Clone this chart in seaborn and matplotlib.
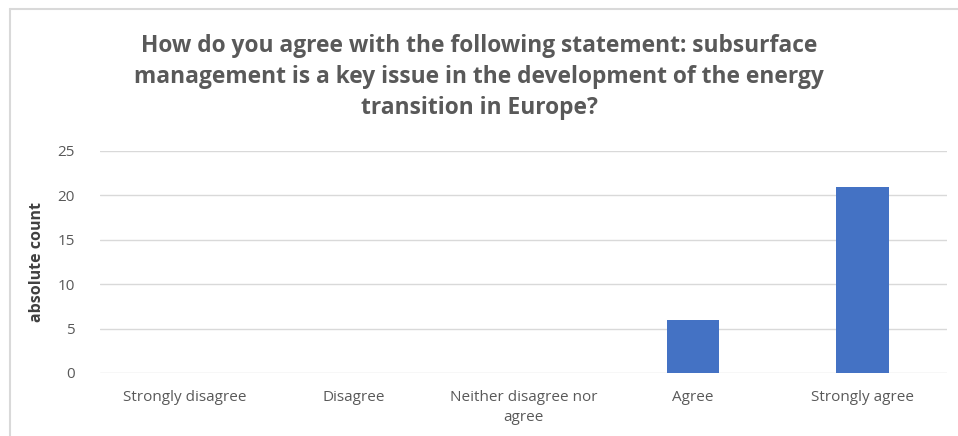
import matplotlib
matplotlib.use("Agg")
import matplotlib.pyplot as plt
import seaborn as sns
import pandas as pd
from matplotlib.lines import Line2D

categories = ["Strongly disagree", "Disagree", "Neither disagree nor\nagree", "Agree", "Strongly agree"]
counts = [0, 0, 0, 6, 21]
yticks = [0, 5, 10, 15, 20, 25]

sns.set_theme(style="white")
plt.rcParams['font.family'] = ['Open Sans', 'DejaVu Sans']

df = pd.DataFrame({"category": categories, "count": counts})

fig = plt.figure(figsize=(9.58, 4.36), dpi=100)
ax = fig.add_axes([0.1044, 0.1445, 0.8841, 0.5092])

sns.barplot(data=df, x="category", y="count", color="#4472C4", width=0.31,
            saturation=1, ax=ax, zorder=3, linewidth=0)

ax.set_ylim(0, 25)
ax.set_xlim(-0.5, 4.5)
ax.set_yticks(yticks)
ax.yaxis.grid(True, color="#D9D9D9", linewidth=1)
ax.set_axisbelow(True)
for s in ax.spines.values():
    s.set_visible(False)
ax.tick_params(axis='both', length=0, colors="#595959", labelsize=11)
ax.tick_params(axis='y', pad=18)
ax.tick_params(axis='x', pad=12)
for lab in ax.get_xticklabels():
    lab.set_linespacing(1.45)
ax.set_xlabel("")
ax.set_ylabel("absolute count", fontsize=11.5, fontweight='bold', color="#404040", labelpad=9)

fig.text(0.5, 0.823, "How do you agree with the following statement: subsurface\n"
         "management is a key issue in the development of the energy\n"
         "transition in Europe?", ha='center', va='center', fontsize=16.4,
         fontweight='bold', color="#595959", linespacing=1.38)

fig.add_artist(Line2D([0.0105, 1.0], [1 - 9/436, 1 - 9/436], color="#D9D9D9", linewidth=1.5, transform=fig.transFigure))
fig.add_artist(Line2D([0.0105, 0.0105], [0, 1 - 9/436], color="#D9D9D9", linewidth=1.5, transform=fig.transFigure))

fig.savefig("out.png", dpi=100)
